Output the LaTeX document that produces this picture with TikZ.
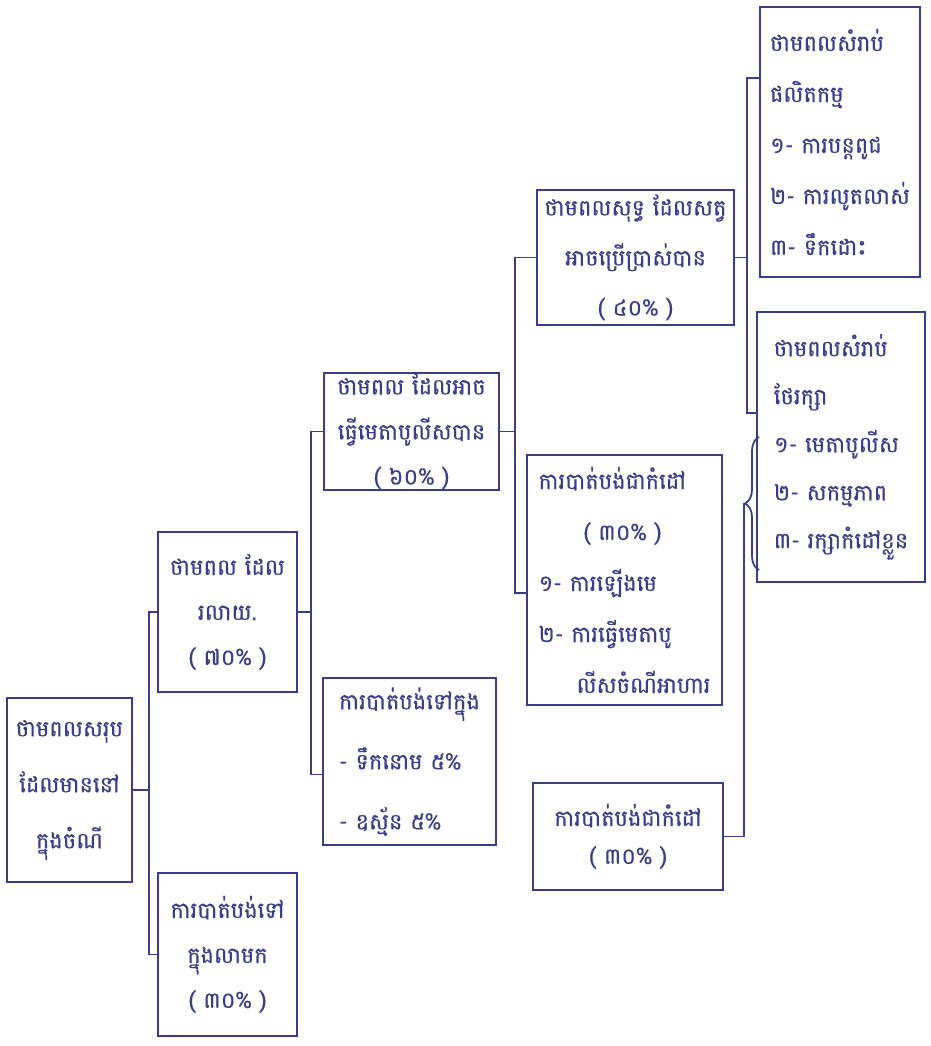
\documentclass[tikz,border=0pt]{standalone}
\usepackage{fontspec}
\newfontfamily\khmer[Script=Khmer,FakeBold=0.6]{Battambang}
\usetikzlibrary{decorations.pathreplacing}
\definecolor{ink}{RGB}{58,62,136}
\begin{document}
\begin{tikzpicture}[x=1pt,y=-1pt,
    box/.style={draw=ink, line width=1.5pt, text=ink, inner sep=0pt,
      font=\khmer\fontsize{22.5}{#1}\selectfont},
    link/.style={draw=ink, line width=1.8pt}]
  \useasboundingbox (0,0) rectangle (930,1046);
  \node[box=56, minimum width=125, minimum height=184, align=center] (A) at (69.5,790)
    {ថាមពលសរុប\\ដែលមាននៅ\\ក្នុងចំណី};
  \node[box=45, minimum width=139, minimum height=160, align=center] (B) at (227.5,612)
    {ថាមពល ដែល\\រលាយ.\\( ៧០\% )};
  \node[box=45, minimum width=139, minimum height=163, align=center] (C) at (227.5,954.5)
    {ការបាត់បង់ទៅ\\ក្នុងលាមក\\( ៣០\% )};
  \node[box=45, minimum width=175, minimum height=117, align=center] (D) at (411.5,431.5)
    {ថាមពល ដែលអាច\\ធ្វើមេតាបូលីសបាន\\( ៦០\% )};
  \node[box=60, minimum width=173, minimum height=167, align=left] (E) at (409.5,761.5)
    {ការបាត់បង់ទៅក្នុង\\- ទឹកនោម ៥\%\\- ឧស្ម័ន ៥\%};
  \node[box=50, minimum width=197, minimum height=135, align=center] (F) at (635.5,257.5)
    {ថាមពលសុទ្ធ ដែលសត្វ\\អាចប្រើប្រាស់បាន\\( ៤០\% )};
  \node[box=51, minimum width=195, minimum height=250, align=left] (G) at (624.5,580)
    {ការបាត់បង់ជាកំដៅ\\\hspace*{45pt}( ៣០\% )\\១- ការឡើងមេ\\២- ការធ្វើមេតាបូ\\\hspace*{38pt}លីសចំណីអាហារ};
  \node[box=38, minimum width=190, minimum height=107, align=center] (J) at (628,836.5)
    {ការបាត់បង់ជាកំដៅ\\( ៣០\% )};
  \node[box=51, minimum width=160, minimum height=270, align=left] (H) at (840,142)
    {ថាមពលសំរាប់\\ផលិតកម្ម\\១- ការបន្តពូជ\\២- ការលូតលាស់\\៣- ទឹកដោះ};
  \node[box=48, minimum width=168, minimum height=270, align=left] (I) at (841,447)
    {ថាមពលសំរាប់\\ថែរក្សា\\១- មេតាបូលីស\\២- សកម្មភាព\\៣- រក្សាកំដៅខ្លួន};
  % brackets
  \draw[link] (A.east) -- ++(16,0) coordinate (b1);
  \draw[link] (B.west) -| (b1) |- (C.west);
  \draw[link] (B.east) -- ++(13,0) coordinate (b2);
  \draw[link] (D.west) -| (b2) |- ([yshift=-13pt]E.west);
  \draw[link] (D.east) -- ++(15,0) coordinate (b3);
  \draw[link] (F.west) -| (b3) |- ([yshift=-13pt]G.west);
  \draw[link] (F.east) -- ++(12,0) coordinate (b4);
  \draw[link] ([yshift=64pt]H.west) -| (b4) |- ([yshift=34pt]I.west);
  \draw[link, decorate, decoration={brace, amplitude=14pt}] (759,570) -- (759,437);
  \coordinate (tip) at (744,503);
  \draw[link] (tip) |- (J.east);
\end{tikzpicture}
\end{document}
